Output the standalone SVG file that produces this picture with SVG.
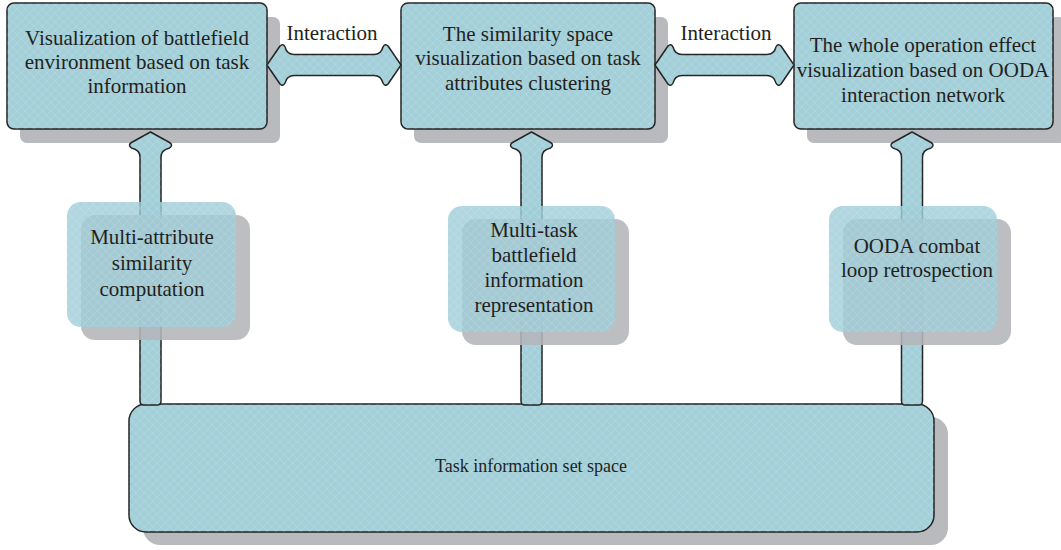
<svg xmlns="http://www.w3.org/2000/svg" width="1061" height="550" viewBox="0 0 1061 550">
  <defs>
    <!-- fine diamond crosshatch laid over the blue fills -->
    <pattern id="hatch" width="6" height="6" patternUnits="userSpaceOnUse" patternTransform="rotate(45)">
      <path d="M0 0H6M0 0V6" stroke="#ffffff" stroke-opacity="0.22" stroke-width="1"/>
    </pattern>
    <style>
      .shadow { fill: #b9babe; }
      .box { fill: #a3cfd9; stroke: #222; stroke-width: 1.5; }
      .hatch { fill: url(#hatch); stroke: none; }
      .soft-shadow { fill: #b4b5b9; opacity: 0.88; }
      .soft-box { fill: #9fcdd8; opacity: 0.82; }
      .arrow { fill: #a3cfd9; stroke: #222; stroke-width: 1.5; stroke-linejoin: round; }
      text { font-family: "Liberation Serif", "Times New Roman", serif; font-size: 21px; fill: #231f20; text-anchor: middle; }
    </style>
  </defs>

  <!-- top row: visualization views -->
  <g id="node-battlefield">
    <rect class="shadow" x="20" y="17" width="260" height="126" rx="7"/>
    <rect class="box" x="7" y="3" width="260" height="126" rx="7"/>
    <rect class="hatch" x="7" y="3" width="260" height="126" rx="7"/>
  </g>
  <g id="node-similarity">
    <rect class="shadow" x="414" y="17" width="254" height="126" rx="7"/>
    <rect class="box" x="401" y="3" width="254" height="126" rx="7"/>
    <rect class="hatch" x="401" y="3" width="254" height="126" rx="7"/>
  </g>
  <g id="node-ooda-effect">
    <rect class="shadow" x="807" y="17" width="259" height="126" rx="7"/>
    <rect class="box" x="794" y="3" width="259" height="126" rx="7"/>
    <rect class="hatch" x="794" y="3" width="259" height="126" rx="7"/>
  </g>

  <!-- base: task information set space -->
  <g id="node-task-space">
    <rect class="shadow" x="143" y="417" width="805" height="128" rx="17"/>
    <rect class="box" x="129" y="404" width="805" height="128" rx="17"/>
    <rect class="hatch" x="129" y="404" width="805" height="128" rx="17"/>
  </g>

  <!-- block arrows -->
  <g id="connectors">
    <!-- vertical arrows from the base up to each view -->
    <path class="arrow" d="M150.5,132 L169.5,142.5 Q173.5,145 169.5,148 Q161,150 161,157 L161,401 Q161,405 157,405 L144,405 Q140,405 140,401 L140,157 Q140,150 131.5,148 Q127.5,145 131.5,142.5 Z"/>
    <path class="hatch" d="M150.5,132 L169.5,142.5 Q173.5,145 169.5,148 Q161,150 161,157 L161,401 Q161,405 157,405 L144,405 Q140,405 140,401 L140,157 Q140,150 131.5,148 Q127.5,145 131.5,142.5 Z"/>
    <path class="arrow" d="M531.5,132 L550.5,142.5 Q554.5,145 550.5,148 Q542,150 542,157 L542,401 Q542,405 538,405 L525,405 Q521,405 521,401 L521,157 Q521,150 512.5,148 Q508.5,145 512.5,142.5 Z"/>
    <path class="hatch" d="M531.5,132 L550.5,142.5 Q554.5,145 550.5,148 Q542,150 542,157 L542,401 Q542,405 538,405 L525,405 Q521,405 521,401 L521,157 Q521,150 512.5,148 Q508.5,145 512.5,142.5 Z"/>
    <path class="arrow" d="M912,132 L931,142.5 Q935,145 931,148 Q922.5,150 922.5,157 L922.5,401 Q922.5,405 918.5,405 L905.5,405 Q901.5,405 901.5,401 L901.5,157 Q901.5,150 893,148 Q889,145 893,142.5 Z"/>
    <path class="hatch" d="M912,132 L931,142.5 Q935,145 931,148 Q922.5,150 922.5,157 L922.5,401 Q922.5,405 918.5,405 L905.5,405 Q901.5,405 901.5,401 L901.5,157 Q901.5,150 893,148 Q889,145 893,142.5 Z"/>

    <!-- two-way interaction arrows between the views -->
    <path class="arrow" d="M267,65 L280,46 Q283,43 285,47 Q287,54.5 294,54.5 L374,54.5 Q381,54.5 383,47 Q385,43 388,46 L401,65 L388,84 Q385,87 383,83 Q381,75.5 374,75.5 L294,75.5 Q287,75.5 285,83 Q283,87 280,84 Z"/>
    <path class="hatch" d="M267,65 L280,46 Q283,43 285,47 Q287,54.5 294,54.5 L374,54.5 Q381,54.5 383,47 Q385,43 388,46 L401,65 L388,84 Q385,87 383,83 Q381,75.5 374,75.5 L294,75.5 Q287,75.5 285,83 Q283,87 280,84 Z"/>
    <path class="arrow" d="M655,65 L668,46 Q671,43 673,47 Q675,54.5 682,54.5 L767,54.5 Q774,54.5 776,47 Q778,43 781,46 L794,65 L781,84 Q778,87 776,83 Q774,75.5 767,75.5 L682,75.5 Q675,75.5 673,83 Q671,87 668,84 Z"/>
    <path class="hatch" d="M655,65 L668,46 Q671,43 673,47 Q675,54.5 682,54.5 L767,54.5 Q774,54.5 776,47 Q778,43 781,46 L794,65 L781,84 Q778,87 776,83 Q774,75.5 767,75.5 L682,75.5 Q675,75.5 673,83 Q671,87 668,84 Z"/>
    <text x="332" y="40">Interaction</text>
    <text x="726" y="40">Interaction</text>
  </g>

  <!-- middle row: translucent processing steps sitting over the arrows -->
  <g id="node-similarity-computation">
    <rect class="soft-shadow" x="81" y="215" width="169" height="125" rx="14"/>
    <rect class="soft-box" x="67" y="202" width="169" height="125" rx="14"/>
    <rect class="hatch" x="67" y="202" width="169" height="125" rx="14"/>
    <text x="152" y="244">Multi-attribute</text>
    <text x="152" y="270">similarity</text>
    <text x="152" y="296">computation</text>
  </g>
  <g id="node-multitask-representation">
    <rect class="soft-shadow" x="462" y="219" width="167" height="126" rx="14"/>
    <rect class="soft-box" x="448" y="206" width="167" height="126" rx="14"/>
    <rect class="hatch" x="448" y="206" width="167" height="126" rx="14"/>
    <text x="534" y="237">Multi-task</text>
    <text x="534" y="262">battlefield</text>
    <text x="534" y="287">information</text>
    <text x="534" y="312">representation</text>
  </g>
  <g id="node-ooda-retrospection">
    <rect class="soft-shadow" x="843" y="219" width="168" height="126" rx="14"/>
    <rect class="soft-box" x="829" y="206" width="168" height="126" rx="14"/>
    <rect class="hatch" x="829" y="206" width="168" height="126" rx="14"/>
    <text x="917" y="253">OODA combat</text>
    <text x="917" y="277">loop retrospection</text>
  </g>

  <!-- labels of the top row and base -->
  <g id="labels">
    <text x="137" y="45">Visualization of battlefield</text>
    <text x="137" y="69">environment based on task</text>
    <text x="137" y="93">information</text>
    <text x="528" y="41">The similarity space</text>
    <text x="528" y="65">visualization based on task</text>
    <text x="528" y="90">attributes clustering</text>
    <text x="923" y="52">The whole operation effect</text>
    <text x="923" y="77">visualization based on OODA</text>
    <text x="923" y="102">interaction network</text>
    <text x="531" y="472" style="font-size:18px">Task information set space</text>
  </g>
</svg>
